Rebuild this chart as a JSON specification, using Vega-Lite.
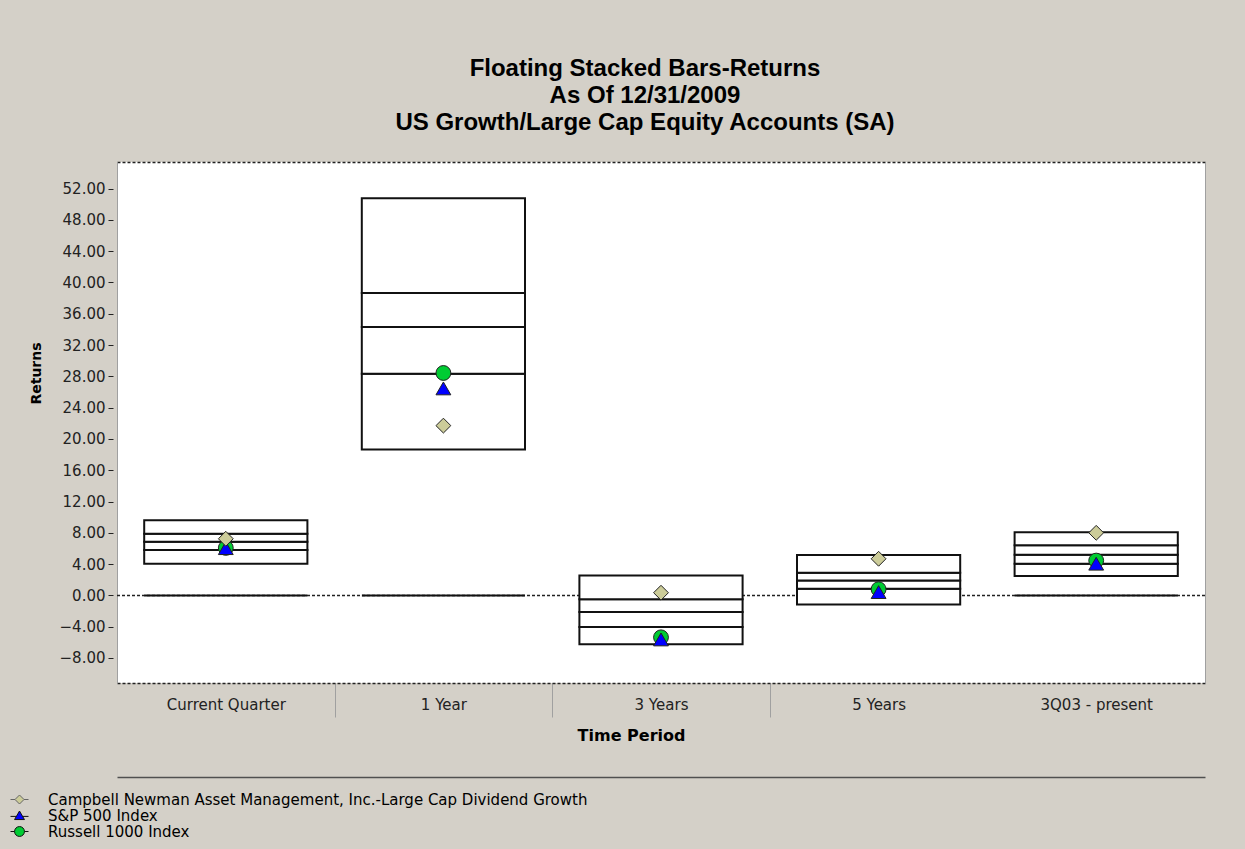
{
  "$schema": "https://vega.github.io/schema/vega-lite/v6.json",
  "width": 1088,
  "height": 521,
  "autosize": {"type": "none"},
  "padding": {"left": 117, "top": 162, "right": 40, "bottom": 166},
  "background": "#d4d0c8",
  "title": {
    "text": ["Floating Stacked Bars-Returns", "As Of 12/31/2009", "US Growth/Large Cap Equity Accounts (SA)"],
    "anchor": "middle",
    "frame": "group",
    "font": "Liberation Sans",
    "fontSize": 24,
    "fontWeight": "bold",
    "color": "#000000",
    "lineHeight": 27,
    "offset": 27,
    "dx": -16
  },
  "config": {
    "view": {"fill": "white", "stroke": null},
    "axis": {
      "labelFont": "DejaVu Sans",
      "labelFontSize": 15,
      "labelColor": "#222222",
      "titleFont": "DejaVu Sans",
      "titleFontWeight": "bold",
      "titleColor": "#000000",
      "grid": false
    },
    "legend": {
      "orient": "none",
      "legendX": -105,
      "legendY": 630,
      "title": null,
      "direction": "vertical",
      "padding": 0,
      "labelFont": "DejaVu Sans",
      "labelFontSize": 15,
      "labelColor": "#000000",
      "labelOffset": 21,
      "labelLimit": 900,
      "rowPadding": 0,
      "symbolSize": 81,
      "symbolStrokeWidth": 1,
      "symbolOpacity": 1
    }
  },
  "datasets": {
    "zero": [{"value": 0}],
    "boxes": [
      {"period": "Current Quarter", "lo": 4.04, "hi": 5.79},
      {"period": "Current Quarter", "lo": 5.79, "hi": 6.85},
      {"period": "Current Quarter", "lo": 6.85, "hi": 7.87},
      {"period": "Current Quarter", "lo": 7.87, "hi": 9.6},
      {"period": "1 Year", "lo": 18.64, "hi": 28.34},
      {"period": "1 Year", "lo": 28.34, "hi": 34.3},
      {"period": "1 Year", "lo": 34.3, "hi": 38.64},
      {"period": "1 Year", "lo": 38.64, "hi": 50.77},
      {"period": "3 Years", "lo": -6.26, "hi": -4.04},
      {"period": "3 Years", "lo": -4.04, "hi": -2.13},
      {"period": "3 Years", "lo": -2.13, "hi": -0.51},
      {"period": "3 Years", "lo": -0.51, "hi": 2.55},
      {"period": "5 Years", "lo": -1.15, "hi": 0.85},
      {"period": "5 Years", "lo": 0.85, "hi": 1.91},
      {"period": "5 Years", "lo": 1.91, "hi": 2.9},
      {"period": "5 Years", "lo": 2.9, "hi": 5.15},
      {"period": "3Q03 - present", "lo": 2.47, "hi": 4.04},
      {"period": "3Q03 - present", "lo": 4.04, "hi": 5.19},
      {"period": "3Q03 - present", "lo": 5.19, "hi": 6.42},
      {"period": "3Q03 - present", "lo": 6.42, "hi": 8.08}
    ],
    "bases": [
      {"period": "Current Quarter", "value": 0},
      {"period": "1 Year", "value": 0},
      {"period": "3Q03 - present", "value": 0}
    ],
    "markers": [
      {"period": "Current Quarter", "series": "Russell 1000 Index", "value": 6.07},
      {"period": "1 Year", "series": "Russell 1000 Index", "value": 28.43},
      {"period": "3 Years", "series": "Russell 1000 Index", "value": -5.36},
      {"period": "5 Years", "series": "Russell 1000 Index", "value": 0.79},
      {"period": "3Q03 - present", "series": "Russell 1000 Index", "value": 4.45},
      {"period": "Current Quarter", "series": "S&P 500 Index", "value": 6.04},
      {"period": "1 Year", "series": "S&P 500 Index", "value": 26.46},
      {"period": "3 Years", "series": "S&P 500 Index", "value": -5.63},
      {"period": "5 Years", "series": "S&P 500 Index", "value": 0.42},
      {"period": "3Q03 - present", "series": "S&P 500 Index", "value": 4.05},
      {"period": "Current Quarter", "series": "Campbell Newman Asset Management, Inc.-Large Cap Dividend Growth", "value": 7.24},
      {"period": "1 Year", "series": "Campbell Newman Asset Management, Inc.-Large Cap Dividend Growth", "value": 21.7},
      {"period": "3 Years", "series": "Campbell Newman Asset Management, Inc.-Large Cap Dividend Growth", "value": 0.34},
      {"period": "5 Years", "series": "Campbell Newman Asset Management, Inc.-Large Cap Dividend Growth", "value": 4.68},
      {"period": "3Q03 - present", "series": "Campbell Newman Asset Management, Inc.-Large Cap Dividend Growth", "value": 8.0}
    ]
  },
  "resolve": {
    "axis": {"x": "independent", "y": "independent"},
    "scale": {"shape": "independent", "fill": "independent", "stroke": "independent"}
  },
  "layer": [
    {
      "data": {"name": "zero"},
      "mark": {"type": "rule", "color": "#222222", "strokeWidth": 1.5, "strokeDash": [3, 2]},
      "encoding": {
        "y": {"field": "value", "type": "quantitative", "axis": null, "scale": {"domain": [-11.2, 55.4], "nice": false, "zero": false}}
      }
    },
    {
      "data": {"name": "boxes"},
      "mark": {"type": "bar", "fill": "white", "stroke": "#111111", "strokeWidth": 2, "width": {"band": 0.75}},
      "encoding": {
        "x": {
          "field": "period", "type": "nominal",
          "sort": ["Current Quarter", "1 Year", "3 Years", "5 Years", "3Q03 - present"],
          "scale": {"paddingInner": 0, "paddingOuter": 0},
          "axis": {
            "orient": "bottom",
            "title": "Time Period",
            "titleFontSize": 16,
            "titleX": 514,
            "titlePadding": 10,
            "labelAngle": 0,
            "labelPadding": -20,
            "domain": true,
            "domainColor": "#222222",
            "domainDash": [3, 2],
            "domainWidth": 1.5,
            "ticks": true,
            "tickBand": "extent",
            "tickSize": 34,
            "tickColor": "#a0a0a0",
            "tickWidth": 1,
            "tickOpacity": {"condition": {"test": "datum.index > 0.7 || datum.extra", "value": 0}, "value": 1}
          }
        },
        "y": {
          "field": "lo", "type": "quantitative",
          "scale": {"domain": [-11.2, 55.4], "nice": false, "zero": false},
          "axis": {
            "orient": "left",
            "title": "Returns",
            "titleFontSize": 14,
            "titlePadding": 16,
            "titleY": 211,
            "values": [-8, -4, 0, 4, 8, 12, 16, 20, 24, 28, 32, 36, 40, 44, 48, 52],
            "format": ".2f",
            "domain": true,
            "domainColor": "#a0a0a0",
            "ticks": true,
            "tickSize": 9,
            "tickDash": [0, 4, 5, 100],
            "tickColor": "#222222",
            "labelPadding": 3
          }
        },
        "y2": {"field": "hi"}
      }
    },
    {
      "data": {"name": "bases"},
      "mark": {"type": "tick", "orient": "horizontal", "size": 163, "thickness": 2, "color": "#111111", "opacity": 1},
      "encoding": {
        "x": {
          "field": "period", "type": "nominal",
          "sort": ["Current Quarter", "1 Year", "3 Years", "5 Years", "3Q03 - present"],
          "axis": {"orient": "top", "title": null, "labels": false, "ticks": false, "domain": true, "domainColor": "#222222", "domainDash": [3, 2], "domainWidth": 1.5}
        },
        "y": {
          "field": "value", "type": "quantitative",
          "axis": {"orient": "right", "title": null, "labels": false, "ticks": false, "domain": true, "domainColor": "#a0a0a0"}
        }
      }
    },
    {
      "data": {"name": "markers"},
      "mark": {"type": "point", "filled": true, "size": 220, "stroke": "#222222", "strokeWidth": 1, "opacity": 1},
      "encoding": {
        "x": {
          "field": "period", "type": "nominal",
          "sort": ["Current Quarter", "1 Year", "3 Years", "5 Years", "3Q03 - present"],
          "axis": {"orient": "bottom", "offset": 94, "title": null, "labels": false, "ticks": false, "domain": true, "domainColor": "#505050", "domainWidth": 1.5}
        },
        "y": {"field": "value", "type": "quantitative", "axis": null},
        "shape": {
          "field": "series", "type": "nominal",
          "scale": {
            "domain": ["Campbell Newman Asset Management, Inc.-Large Cap Dividend Growth", "S&P 500 Index", "Russell 1000 Index"],
            "range": ["diamond", "triangle-up", "circle"]
          },
          "legend": null
        },
        "fill": {
          "field": "series", "type": "nominal",
          "scale": {
            "domain": ["Campbell Newman Asset Management, Inc.-Large Cap Dividend Growth", "S&P 500 Index", "Russell 1000 Index"],
            "range": ["#cccc99", "#0000ff", "#00cc33"]
          },
          "legend": null
        }
      }
    },
    {
      "data": {"name": "markers"},
      "transform": [{"filter": "datum.value > 1000"}],
      "mark": {"type": "point", "filled": true, "strokeWidth": 1, "opacity": 1},
      "encoding": {
        "x": {
          "field": "period", "type": "nominal",
          "sort": ["Current Quarter", "1 Year", "3 Years", "5 Years", "3Q03 - present"],
          "axis": null
        },
        "y": {"field": "value", "type": "quantitative", "axis": null},
        "shape": {
          "field": "series", "type": "nominal",
          "scale": {
            "domain": ["Campbell Newman Asset Management, Inc.-Large Cap Dividend Growth", "S&P 500 Index", "Russell 1000 Index"],
            "range": [
              "M-2,0H-1M1,0H2M0,-1L1,0L0,1L-1,0Z",
              "M-2,0.2H-0.7M0.7,0.2H2M0,-1L1.1,0.9L-1.1,0.9Z",
              "M-2,0H-1.1M1.1,0H2M1.1,0A1.1,1.1,0,1,1,-1.1,0A1.1,1.1,0,1,1,1.1,0Z"
            ]
          }
        },
        "fill": {
          "field": "series", "type": "nominal",
          "scale": {
            "domain": ["Campbell Newman Asset Management, Inc.-Large Cap Dividend Growth", "S&P 500 Index", "Russell 1000 Index"],
            "range": ["#cccc99", "#0000ff", "#00cc33"]
          }
        },
        "stroke": {
          "field": "series", "type": "nominal",
          "scale": {
            "domain": ["Campbell Newman Asset Management, Inc.-Large Cap Dividend Growth", "S&P 500 Index", "Russell 1000 Index"],
            "range": ["#666666", "#111111", "#111111"]
          }
        }
      }
    }
  ]
}
